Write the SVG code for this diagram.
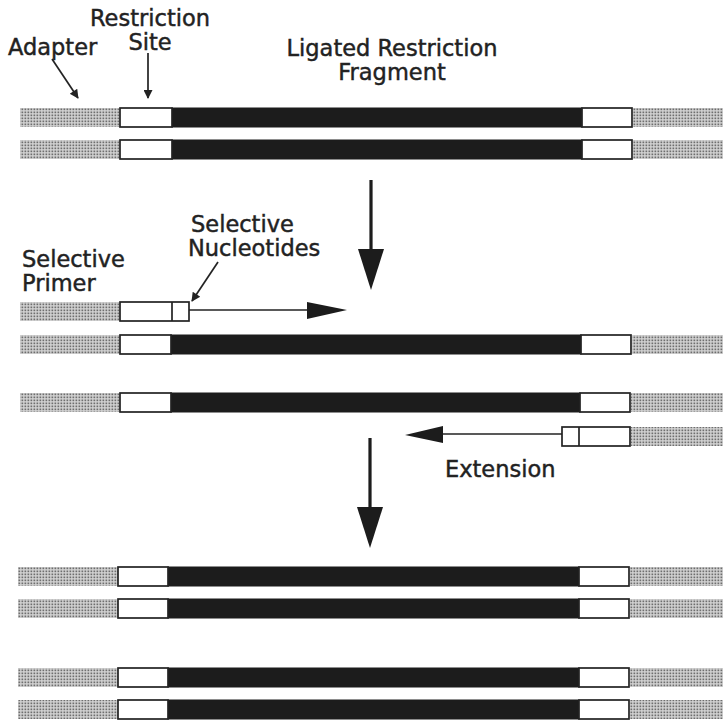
<svg xmlns="http://www.w3.org/2000/svg" width="723" height="721" viewBox="0 0 723 721">
  <style>
    .lbl { font-family: "DejaVu Sans", "Liberation Sans", sans-serif; font-size: 22.5px; fill: #222; stroke: #222; stroke-width: 0.45; }
    .ad { fill: url(#stip); stroke: none; }
    .site { fill: #fff; stroke: #222; stroke-width: 1.7; }
    .frag { fill: #1c1c1c; stroke: #1c1c1c; stroke-width: 1; }
    .thin { stroke: #222; stroke-width: 1.7; fill: none; }
    .thick { stroke: #1c1c1c; stroke-width: 3.2; fill: none; }
    .head { fill: #1c1c1c; stroke: none; }
  </style>
  <defs>
    <pattern id="stip" width="3" height="3" patternUnits="userSpaceOnUse">
      <rect width="3" height="3" fill="#d4d4d4"/>
      <rect x="0.5" y="0.5" width="1.7" height="1.7" fill="#6e6e6e"/>
    </pattern>
    <marker id="tip" viewBox="0 0 10 10" refX="9" refY="5" markerWidth="12" markerHeight="9" markerUnits="userSpaceOnUse" orient="auto">
      <path d="M0,0 L10,5 L0,10 Z" fill="#222"/>
    </marker>
  </defs>
  <rect width="723" height="721" fill="#fff"/>

  <!-- labels -->
  <g id="label-adapter"><text class="lbl" x="8" y="55">Adapter</text></g>
  <g id="label-site"><text class="lbl" x="150" y="26" text-anchor="middle">Restriction</text><text class="lbl" x="150" y="50" text-anchor="middle">Site</text></g>
  <g id="label-fragment"><text class="lbl" x="392" y="56" text-anchor="middle">Ligated Restriction</text><text class="lbl" x="392" y="80" text-anchor="middle">Fragment</text></g>
  <g id="label-primer"><text class="lbl" x="22" y="267">Selective</text><text class="lbl" x="22" y="291">Primer</text></g>
  <g id="label-nucleotides"><text class="lbl" x="191" y="232">Selective</text><text class="lbl" x="188" y="256">Nucleotides</text></g>
  <g id="label-extension"><text class="lbl" x="445" y="477">Extension</text></g>

  <!-- ligated fragment, both strands -->
  <g id="fragment-top-1">
    <rect class="ad" x="20" y="108" width="100" height="19"/>
    <rect class="frag" x="172" y="108" width="410" height="19"/>
    <rect class="site" x="120" y="108" width="52" height="19"/>
    <rect class="site" x="582" y="108" width="50" height="19"/>
    <rect class="ad" x="633" y="108" width="90" height="19"/>
  </g>
  <g id="fragment-top-2">
    <rect class="ad" x="20" y="140" width="100" height="19"/>
    <rect class="frag" x="172" y="140" width="410" height="19"/>
    <rect class="site" x="120" y="140" width="52" height="19"/>
    <rect class="site" x="582" y="140" width="50" height="19"/>
    <rect class="ad" x="633" y="140" width="90" height="19"/>
  </g>

  <!-- forward selective primer -->
  <g id="primer-forward">
    <rect class="ad" x="20" y="302" width="100" height="19"/>
    <rect class="site" x="120" y="302" width="69" height="19"/>
    <line class="thin" x1="172" y1="302" x2="172" y2="321"/>
  </g>
  <g id="template-1">
    <rect class="ad" x="20" y="335" width="100" height="19"/>
    <rect class="frag" x="171" y="335" width="410" height="19"/>
    <rect class="site" x="120" y="335" width="51" height="19"/>
    <rect class="site" x="581" y="335" width="50" height="19"/>
    <rect class="ad" x="632" y="335" width="91" height="19"/>
  </g>
  <g id="template-2">
    <rect class="ad" x="20" y="393" width="100" height="19"/>
    <rect class="frag" x="171" y="393" width="409" height="19"/>
    <rect class="site" x="120" y="393" width="51" height="19"/>
    <rect class="site" x="580" y="393" width="50" height="19"/>
    <rect class="ad" x="631" y="393" width="92" height="19"/>
  </g>
  <!-- reverse selective primer -->
  <g id="primer-reverse">
    <rect class="site" x="562" y="427" width="68" height="19"/>
    <line class="thin" x1="579" y1="427" x2="579" y2="446"/>
    <rect class="ad" x="631" y="427" width="92" height="19"/>
  </g>

  <!-- amplified products -->
  <g id="product-1">
    <rect class="ad" x="18" y="567" width="100" height="19"/>
    <rect class="frag" x="168" y="567" width="411" height="19"/>
    <rect class="site" x="118" y="567" width="50" height="19"/>
    <rect class="site" x="579" y="567" width="50" height="19"/>
    <rect class="ad" x="630" y="567" width="93" height="19"/>
  </g>
  <g id="product-2">
    <rect class="ad" x="18" y="599" width="100" height="19"/>
    <rect class="frag" x="168" y="599" width="411" height="19"/>
    <rect class="site" x="118" y="599" width="50" height="19"/>
    <rect class="site" x="579" y="599" width="50" height="19"/>
    <rect class="ad" x="630" y="599" width="93" height="19"/>
  </g>
  <g id="product-3">
    <rect class="ad" x="18" y="668" width="100" height="19"/>
    <rect class="frag" x="168" y="668" width="411" height="19"/>
    <rect class="site" x="118" y="668" width="50" height="19"/>
    <rect class="site" x="579" y="668" width="50" height="19"/>
    <rect class="ad" x="630" y="668" width="93" height="19"/>
  </g>
  <g id="product-4">
    <rect class="ad" x="18" y="700" width="100" height="19"/>
    <rect class="frag" x="168" y="700" width="411" height="19"/>
    <rect class="site" x="118" y="700" width="50" height="19"/>
    <rect class="site" x="579" y="700" width="50" height="19"/>
    <rect class="ad" x="630" y="700" width="93" height="19"/>
  </g>

  <!-- connectors -->
  <g id="connectors">
    <line class="thin" x1="52" y1="59" x2="78" y2="98" marker-end="url(#tip)"/>
    <line class="thin" x1="148" y1="53" x2="148" y2="98" marker-end="url(#tip)"/>
    <line class="thin" x1="218" y1="262" x2="192" y2="301" marker-end="url(#tip)"/>
    <line class="thin" x1="189" y1="310" x2="310" y2="310"/>
    <path class="head" d="M307,302 L347,310 L307,319 Z"/>
    <line class="thin" x1="562" y1="434" x2="440" y2="434"/>
    <path class="head" d="M443,426 L405,435 L443,443 Z"/>
    <line class="thick" x1="371" y1="180" x2="371" y2="252"/>
    <path class="head" d="M358,249 L384,249 L371,290 Z"/>
    <line class="thick" x1="370" y1="438" x2="370" y2="510"/>
    <path class="head" d="M357,507 L383,507 L370,548 Z"/>
  </g>
</svg>
